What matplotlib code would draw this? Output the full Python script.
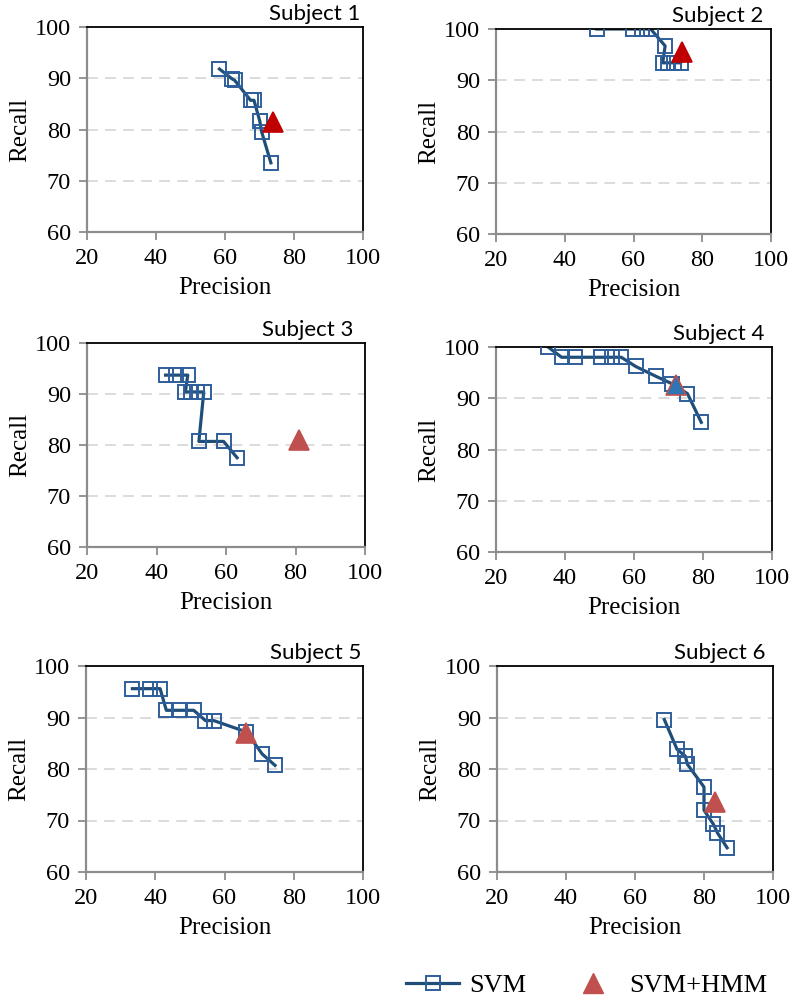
import matplotlib
matplotlib.use("Agg")
import matplotlib.pyplot as plt
from matplotlib.lines import Line2D

# ---------------- data ----------------
subjects = ["Subject 1", "Subject 2", "Subject 3", "Subject 4", "Subject 5", "Subject 6"]

svm_p1 = [58.4, 62.0, 62.8, 67.4, 68.4, 70.1, 70.6, 73.3]
svm_r1 = [91.8, 89.9, 89.6, 85.7, 85.7, 81.6, 79.6, 73.5]
svm_p2 = [49.3, 59.8, 62.4, 65.0, 69.2, 68.5, 70.1, 71.9, 73.7]
svm_r2 = [100.0, 100.0, 100.0, 100.0, 96.7, 93.4, 93.4, 93.4, 93.4]
svm_p3 = [42.6, 45.7, 49.0, 48.3, 50.0, 51.7, 53.6, 52.2, 59.3, 63.2]
svm_r3 = [93.7, 93.7, 93.7, 90.4, 90.4, 90.4, 90.4, 80.7, 80.7, 77.5]
svm_p4 = [35.1, 39.0, 43.0, 50.3, 53.5, 56.3, 60.5, 66.3, 71.1, 75.5, 79.5]
svm_r4 = [100.0, 98.0, 98.0, 98.0, 98.0, 98.0, 96.2, 94.3, 92.8, 90.9, 85.3]
svm_p5 = [33.4, 38.4, 41.4, 43.2, 46.8, 51.1, 54.5, 56.9, 66.3, 70.9, 74.6]
svm_r5 = [95.6, 95.6, 95.6, 91.4, 91.4, 91.4, 89.4, 89.4, 87.2, 82.9, 80.7]
svm_p6 = [68.5, 72.2, 74.6, 75.2, 80.0, 80.0, 82.7, 83.9, 86.7]
svm_r6 = [89.6, 83.8, 82.5, 80.9, 76.5, 72.0, 69.3, 67.6, 64.7]

hmm_p = [73.9, 74.2, 81.1, 72.1, 66.1, 83.1]
hmm_r = [81.4, 95.6, 81.0, 92.6, 86.9, 73.6]

svm_p = [svm_p1, svm_p2, svm_p3, svm_p4, svm_p5, svm_p6]
svm_r = [svm_r1, svm_r2, svm_r3, svm_r4, svm_r5, svm_r6]

x_ticks = [20, 40, 60, 80, 100]
y_ticks = [60, 70, 80, 90, 100]

# ---------------- style ----------------
plt.rcParams["font.family"] = ["Liberation Serif", "DejaVu Serif"]

W, H = 796, 1002
fig = plt.figure(figsize=(W / 100, H / 100), dpi=100)

SANS = ["Lato", "DejaVu Sans"]
LINE_C = "#1F4E79"
MK_EDGE = "#2E5E9A"
tri_face = ["#C00000", "#C00000", "#C0504D", "#2E75B6", "#C0504D", "#C0504D"]
tri_edge = ["#C00000", "#C00000", "#C0504D", "#C0504D", "#C0504D", "#C0504D"]

# panel boxes in pixels: left, right, top, bottom
boxes = [
    (87, 363, 27, 232),
    (496, 771, 29, 234),
    (87, 365, 343, 547),
    (496, 772, 347, 552),
    (86, 363, 666, 872),
    (497, 773, 666, 872),
]
title_right = [360, 763, 353, 764, 361, 765]

for i, (l, r, t, b) in enumerate(boxes):
    ax = fig.add_axes([l / W, 1 - b / H, (r - l) / W, (b - t) / H])
    ax.set_xlim(20, 100)
    ax.set_ylim(60, 100)
    ax.set_xticks(x_ticks)
    ax.set_yticks(y_ticks)
    for y in y_ticks[1:-1]:
        ax.axhline(y, color="#D9D9D9", lw=1.3, dashes=(6, 4), zorder=0)
    ax.plot(svm_p[i], svm_r[i], color=LINE_C, lw=2.3, zorder=2)
    ax.plot(svm_p[i], svm_r[i], ls="none", marker="s", ms=10.5, mfc="none",
            mec=MK_EDGE, mew=1.4, zorder=3)
    ax.plot([hmm_p[i]], [hmm_r[i]], ls="none", marker="^", ms=15,
            mfc=tri_face[i], mec=tri_edge[i], mew=1.2, zorder=4)
    for s in ("left", "bottom"):
        ax.spines[s].set_color("#8C8C8C")
        ax.spines[s].set_linewidth(1.6)
    for s in ("top", "right"):
        ax.spines[s].set_color("#000000")
        ax.spines[s].set_linewidth(1.3)
    ax.tick_params(axis="both", direction="out", length=5.5, width=1.3,
                   color="#8C8C8C", labelsize=17.5)
    ax.tick_params(axis="x", pad=6)
    ax.tick_params(axis="y", pad=6)
    ax.set_xlabel("Precision", fontsize=18, labelpad=6)
    ax.set_ylabel("Recall", fontsize=18, labelpad=3)
    fig.text(title_right[i] / W, 1 - (t - 7) / H, subjects[i], ha="right",
             va="baseline", family=SANS, fontsize=16)

handles = [
    Line2D([], [], color=LINE_C, lw=2.3, marker="s", ms=10.5, mfc="none",
           mec=MK_EDGE, mew=1.4),
    Line2D([], [], ls="none", marker="^", ms=15, mfc="#C0504D", mec="#C0504D"),
]
fig.legend(handles, ["SVM", "SVM+HMM"], loc="center", ncol=2,
           bbox_to_anchor=(587 / W, 1 - 985 / H), frameon=False,
           prop={"size": 19}, handlelength=2.0,
           columnspacing=1.5, handletextpad=0.4)

fig.savefig("out.png", dpi=100)
